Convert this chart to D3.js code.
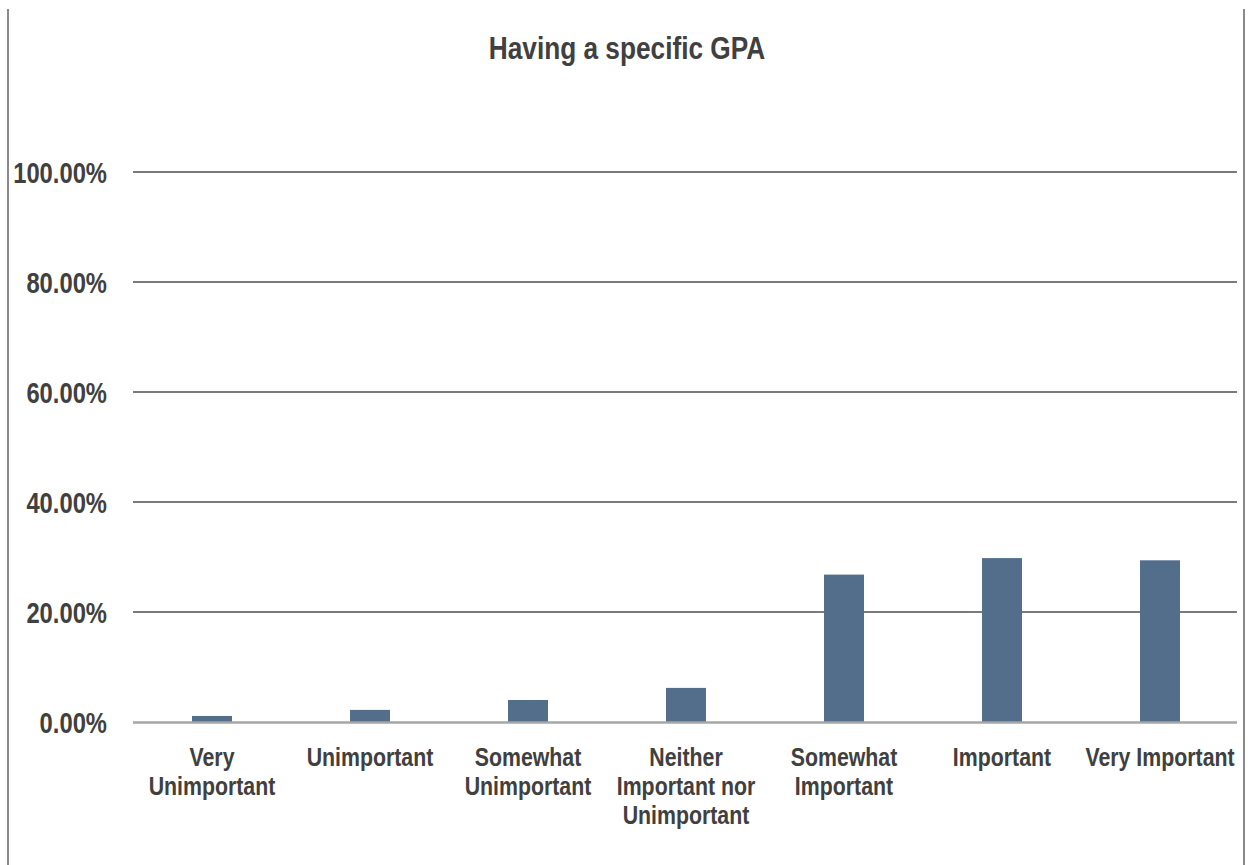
<!DOCTYPE html>
<html>
<head>
<meta charset="utf-8">
<script src="https://cdn.jsdelivr.net/npm/d3@7"></script>
<style>
  body { margin: 0; background: #fff; }
  text { font-family: "Liberation Sans", Arial, sans-serif; font-weight: bold; fill: #404040; }
</style>
</head>
<body>
<div id="chart"></div>
<script>
// chart data
var categories = [
    ["Very", "Unimportant"],
    ["Unimportant"],
    ["Somewhat", "Unimportant"],
    ["Neither", "Important nor", "Unimportant"],
    ["Somewhat", "Important"],
    ["Important"],
    ["Very Important"]
];
var values = [1.1, 2.2, 4.0, 6.2, 26.8, 29.8, 29.4];
var yTicks = [0, 20, 40, 60, 80, 100];
var title = "Having a specific GPA";

var width = 1251, height = 865;
var margin = {top: 172, right: 12, bottom: 142, left: 133};
var plotW = width - margin.left - margin.right,
    plotH = height - margin.top - margin.bottom;
var narrow = 0.82; // the original font is a condensed face

var svg = d3.select("#chart")
    .append("svg")
    .attr("width", width)
    .attr("height", height);

// frame borders left / right
svg.append("line")
    .attr("x1", 8).attr("x2", 8).attr("y1", 9).attr("y2", height)
    .style("stroke", "#8a8a8a").style("stroke-width", 2);
svg.append("line")
    .attr("x1", 1244).attr("x2", 1244).attr("y1", 9).attr("y2", height)
    .style("stroke", "#8a8a8a").style("stroke-width", 2);

svg.append("text")
    .attr("transform", "translate(627,59) scale(" + narrow + ",1)")
    .attr("text-anchor", "middle")
    .style("font-size", "32px")
    .text(title);

var g = svg.append("g")
    .attr("transform", "translate(" + margin.left + "," + margin.top + ")");

var x = d3.scaleBand()
    .domain(d3.range(categories.length))
    .range([0, plotW])
    .paddingInner(0.747)
    .paddingOuter(0.3735);

var y = d3.scaleLinear()
    .domain([0, 100])
    .range([plotH - 1, 0]);

// gridlines
g.selectAll(".grid")
    .data(yTicks.filter(d => d > 0))
    .enter().append("line")
    .attr("class", "grid")
    .attr("x1", 0).attr("x2", plotW - 2)
    .attr("y1", d => y(d)).attr("y2", d => y(d))
    .style("stroke", "#7a7a7a")
    .style("stroke-width", 2);

// y tick labels
g.selectAll(".ylab")
    .data(yTicks)
    .enter().append("text")
    .attr("class", "ylab")
    .attr("transform", d => "translate(-26," + (y(d) + 11) + ") scale(" + narrow + ",1)")
    .attr("text-anchor", "end")
    .style("font-size", "29px")
    .text(d => d3.format(".2f")(d) + "%");

// bars
g.selectAll(".bar")
    .data(values)
    .enter().append("rect")
    .attr("class", "bar")
    .attr("x", (d, i) => x(i))
    .attr("width", x.bandwidth())
    .attr("y", d => y(d))
    .attr("height", d => y(0) - y(d))
    .style("fill", "#536e8a");

// baseline
g.append("line")
    .attr("x1", 0).attr("x2", plotW - 2)
    .attr("y1", y(0) + 0.5).attr("y2", y(0) + 0.5)
    .style("stroke", "#a6a6a6")
    .style("stroke-width", 2.5);

// category labels
var labels = g.selectAll(".xlab")
    .data(categories)
    .enter().append("text")
    .attr("class", "xlab")
    .attr("text-anchor", "middle")
    .style("font-size", "26px")
    .attr("transform", (d, i) => "translate(" + (x(i) + x.bandwidth() / 2) + "," + (y(0) + 44) + ") scale(" + narrow + ",1)");

labels.selectAll("tspan")
    .data(d => d)
    .enter().append("tspan")
    .attr("x", 0)
    .attr("y", (d, i) => i * 29)
    .text(d => d);
</script>
</body>
</html>
